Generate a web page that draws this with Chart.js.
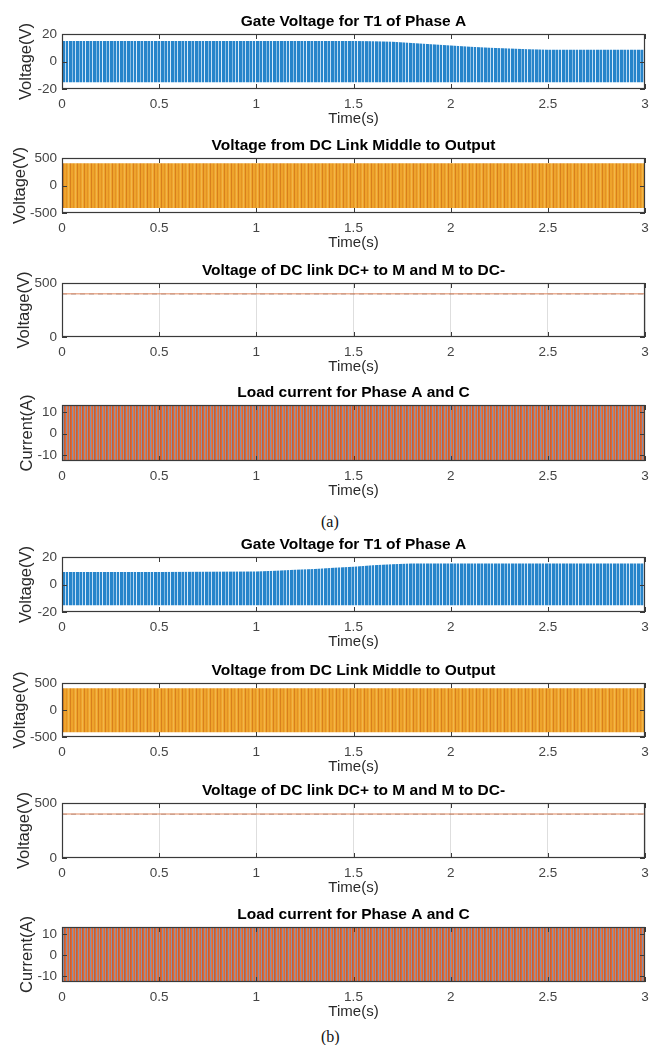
<!DOCTYPE html>
<html><head><meta charset="utf-8">
<script src="https://cdn.jsdelivr.net/npm/chart.js@4.4.1/dist/chart.umd.min.js"></script>
<style>
html,body{margin:0;padding:0;background:#fff;}
#wrap{position:relative;width:649px;height:1045px;overflow:hidden;background:#fff;}
.pc{position:absolute;left:0;width:649px;}
.cap{position:absolute;font-family:"Liberation Serif","Times New Roman",serif;font-size:16px;color:#111;line-height:18px;}
</style></head><body><div id="wrap">
<div class="cap" style="left:321px;top:513px;">(a)</div>
<div class="cap" style="left:321px;top:1028px;">(b)</div>
</div>
<script>
// ---------- data ----------
const timeTicks = [0, 0.5, 1, 1.5, 2, 2.5, 3];
const timeTickLabels = ['0', '0.5', '1', '1.5', '2', '2.5', '3'];

const envT      = [0, 0.25, 0.5, 0.75, 1.0, 1.1, 1.2, 1.3, 1.4, 1.5, 1.6, 1.7, 1.8, 1.9, 2.0, 2.1, 2.2, 2.3, 2.4, 2.5, 2.75, 3.0];
// (a) gate voltage envelope
const gateTopA  = [15, 15, 15, 15, 15, 15, 15, 15, 15, 15, 14.8, 14.3, 13.5, 12.6, 11.7, 10.8, 10.0, 9.4, 8.9, 8.6, 8.5, 8.5];
const gateBotA  = [-15, -15, -15, -15, -15, -15, -15, -15, -15, -15, -15, -15, -15, -15, -15, -15, -15, -15, -15, -15, -15, -15];
// (b) gate voltage envelope
const gateTopB  = [9.1, 9.1, 9.1, 9.2, 9.4, 10.0, 10.7, 11.3, 12.1, 13.0, 14.0, 14.8, 15.2, 15.3, 15.3, 15.3, 15.3, 15.3, 15.3, 15.3, 15.3, 15.3];
const gateBotB  = [-15, -15, -15, -15, -15, -15, -15, -15, -15, -15, -15, -15, -15, -15, -15, -15, -15, -15, -15, -15, -15, -15];

const flatT      = [0, 0.5, 1, 1.5, 2, 2.5, 3];
const outTop     = [405, 405, 405, 405, 405, 405, 405];
const outBot     = [-410, -410, -410, -410, -410, -410, -410];
const dcPlusM    = [400, 400, 400, 400, 400, 400, 400];
const dcMMinus   = [398, 398, 398, 398, 398, 398, 398];
const curTop     = [13.4, 13.4, 13.4, 13.4, 13.4, 13.4, 13.4];
const curBot     = [-12.8, -12.8, -12.8, -12.8, -12.8, -12.8, -12.8];

const gateTicks = [-20, 0, 20];
const outTicks  = [-500, 0, 500];
const dcTicks   = [0, 500];
const curTicks  = [-10, 0, 10];

// ---------- styles ----------
function stripes(width, base, cols) {
  const c = document.createElement('canvas');
  c.width = width; c.height = 4;
  const g = c.getContext('2d');
  g.fillStyle = base; g.fillRect(0, 0, width, 4);
  cols.forEach(([x, w, col]) => { g.fillStyle = col; g.fillRect(x, 0, w, 4); });
  return g.createPattern(c, 'repeat');
}
const bluePat = stripes(17, '#2684ca', [[0,1,'rgba(235,245,255,0.9)'],[4,1,'rgba(220,238,252,0.55)'],[7,1,'rgba(235,245,255,0.8)'],[11,1,'rgba(220,238,252,0.5)'],[14,1,'rgba(235,245,255,0.75)']]);
const orangePat = stripes(7, '#eea42c', [[0,1,'#d97f1c'],[3,1,'#e49224'],[5,1,'#f2b64a']]);
const curPat = stripes(6, '#d8683a', [[0,1,'#8390ae'],[1,1,'#e27a45'],[3,1,'#8c95ad'],[4,1,'#cf5d2c']]);

const FONT = "'Liberation Sans', Arial, Helvetica, sans-serif";

const framePlugin = {
  id: 'frame',
  afterDatasetsDraw(chart) {
    const {ctx, chartArea: a, scales: {x, y}} = chart;
    ctx.save();
    ctx.strokeStyle = '#3a3a3a'; ctx.lineWidth = 1;
    ctx.beginPath();
    x.ticks.forEach(t => {
      const px = Math.round(x.getPixelForValue(t.value)) + 0.5;
      ctx.moveTo(px, a.top); ctx.lineTo(px, a.top + 5);
      ctx.moveTo(px, a.bottom); ctx.lineTo(px, a.bottom - 5);
    });
    y.ticks.forEach(t => {
      const py = Math.round(y.getPixelForValue(t.value)) + 0.5;
      ctx.moveTo(a.left, py); ctx.lineTo(a.left + 5, py);
      ctx.moveTo(a.right, py); ctx.lineTo(a.right - 5, py);
    });
    ctx.stroke();
    ctx.lineWidth = 1.2;
    ctx.strokeRect(a.left + 0.5, a.top + 0.5, a.width - 1, a.height - 1);
    ctx.restore();
  }
};

function pts(t, v) { return t.map((tt, i) => ({x: tt, y: v[i]})); }

function band(t, top, bot, pat) {
  return [
    {data: pts(t, top), borderWidth: 0, pointRadius: 0, fill: '+1', backgroundColor: pat, borderColor: 'rgba(0,0,0,0)', tension: 0},
    {data: pts(t, bot), borderWidth: 0, pointRadius: 0, fill: false, borderColor: 'rgba(0,0,0,0)', tension: 0}
  ];
}

const wrap = document.getElementById('wrap');
function panel(cfg) {
  const padTop = 28;            // space above the box
  const below = 40;             // x-axis block height
  const boxH = cfg.boxBottom - cfg.boxTop;
  const H = padTop + boxH + below;
  const div = document.createElement('div');
  div.className = 'pc';
  div.style.top = (cfg.boxTop - padTop) + 'px';
  div.style.height = H + 'px';
  const cv = document.createElement('canvas');
  cv.width = 649; cv.height = H;
  cv.style.width = '649px'; cv.style.height = H + 'px';
  div.appendChild(cv); wrap.appendChild(div);

  const titleSize = 15.5, titleLH = 18.6;
  new Chart(cv, {
    type: 'line',
    data: {datasets: cfg.datasets},
    plugins: [framePlugin],
    options: {
      responsive: false, animation: false, events: [],
      layout: {padding: {left: 0, right: 4, top: 0, bottom: 0}},
      plugins: {
        legend: {display: false}, tooltip: {enabled: false},
        title: {display: true, text: cfg.title, color: '#000', fullSize: false,
          font: {family: FONT, size: titleSize, weight: 'bold', lineHeight: titleLH / titleSize},
          padding: {top: padTop - titleLH - 3, bottom: 3}}
      },
      scales: {
        x: {type: 'linear', min: 0, max: 3,
          afterFit: s => { s.height = below; s.paddingLeft = 0; s.paddingRight = 0; },
          afterBuildTicks: s => { s.ticks = timeTicks.map(v => ({value: v})); },
          grid: {display: cfg.grid, drawTicks: false, color: '#dedede', lineWidth: 1},
          border: {display: false},
          ticks: {padding: 7, color: '#444', font: {family: FONT, size: 13.5, lineHeight: 1.2}, maxRotation: 0,
            callback: v => timeTickLabels[timeTicks.indexOf(v)]},
          title: {display: true, text: 'Time(s)', color: '#2a2a2a', font: {family: FONT, size: 15, lineHeight: 1.2}, padding: {top: 0, bottom: 1}}
        },
        y: {type: 'linear', min: cfg.ymin, max: cfg.ymax,
          afterFit: s => { s.width = 62; s.paddingTop = 0; s.paddingBottom = 0; },
          afterBuildTicks: s => { s.ticks = cfg.yticks.map(v => ({value: v})); },
          grid: {display: false, drawTicks: false},
          border: {display: false},
          ticks: {padding: 5, color: '#444', font: {family: FONT, size: 13.5, lineHeight: 1.2},
            callback: v => String(v)},
          title: {display: true, text: cfg.ylabel, color: '#2a2a2a', font: {family: FONT, size: 16.5, lineHeight: 1.2}, padding: {top: cfg.ylabX - 9.9, bottom: 0}}
        }
      }
    }
  });
}

function dcLines() {
  return [
    {data: pts(flatT, dcPlusM), borderWidth: 1.5, pointRadius: 0, borderColor: 'rgba(217,110,60,0.55)', fill: false},
    {data: pts(flatT, dcMMinus), borderWidth: 1, pointRadius: 0, borderColor: 'rgba(110,110,120,0.55)', borderDash: [5, 4], fill: false}
  ];
}

const panels = [
  {title: 'Gate Voltage for T1 of Phase A', ylabel: 'Voltage(V)', ylabX: 26, boxTop: 34, boxBottom: 89, ymin: -20, ymax: 20, yticks: gateTicks, grid: false, datasets: band(envT, gateTopA, gateBotA, bluePat)},
  {title: 'Voltage from DC Link Middle to Output', ylabel: 'Voltage(V)', ylabX: 20, boxTop: 158, boxBottom: 213, ymin: -500, ymax: 500, yticks: outTicks, grid: false, datasets: band(flatT, outTop, outBot, orangePat)},
  {title: 'Voltage of DC link DC+ to M and M to DC-', ylabel: 'Voltage(V)', ylabX: 24, boxTop: 283, boxBottom: 337, ymin: 0, ymax: 500, yticks: dcTicks, grid: true, datasets: dcLines()},
  {title: 'Load current for Phase A and C', ylabel: 'Current(A)', ylabX: 27, boxTop: 405, boxBottom: 461, ymin: -12.8, ymax: 13.4, yticks: curTicks, grid: false, datasets: band(flatT, curTop, curBot, curPat)},
  {title: 'Gate Voltage for T1 of Phase A', ylabel: 'Voltage(V)', ylabX: 26, boxTop: 557, boxBottom: 612, ymin: -20, ymax: 20, yticks: gateTicks, grid: false, datasets: band(envT, gateTopB, gateBotB, bluePat)},
  {title: 'Voltage from DC Link Middle to Output', ylabel: 'Voltage(V)', ylabX: 20, boxTop: 683, boxBottom: 737, ymin: -500, ymax: 500, yticks: outTicks, grid: false, datasets: band(flatT, outTop, outBot, orangePat)},
  {title: 'Voltage of DC link DC+ to M and M to DC-', ylabel: 'Voltage(V)', ylabX: 24, boxTop: 803, boxBottom: 858, ymin: 0, ymax: 500, yticks: dcTicks, grid: true, datasets: dcLines()},
  {title: 'Load current for Phase A and C', ylabel: 'Current(A)', ylabX: 27, boxTop: 927, boxBottom: 982, ymin: -12.8, ymax: 13.4, yticks: curTicks, grid: false, datasets: band(flatT, curTop, curBot, curPat)}
];
panels.forEach(panel);
</script>
</body></html>
